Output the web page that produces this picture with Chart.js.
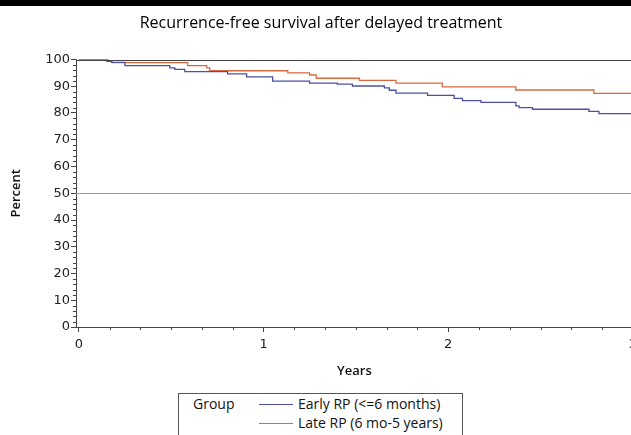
<!DOCTYPE html>
<html>
<head>
<meta charset="utf-8">
<script src="https://cdn.jsdelivr.net/npm/chart.js@4/dist/chart.umd.min.js"></script>
<style>
  html, body { margin: 0; padding: 0; background: #fff; width: 631px; height: 435px; overflow: hidden; }
  #topBar { position: absolute; left: 0; top: 0; width: 631px; height: 6px; background: #000; z-index: 2; }
  #wrap { position: absolute; left: 0; top: 0; }
  #legend { position: absolute; left: 178px; top: 393px; width: 283px; height: 50px;
            border: 1px solid #555; font-family: "Open Sans", sans-serif; font-size: 14px; color: #111; }
  #legend span { position: absolute; white-space: nowrap; line-height: 18px; }
  #legend i { position: absolute; height: 0; border-top: 1.3px solid; }
</style>
</head>
<body>
<div id="topBar"></div>
<div id="wrap"><canvas id="kmChart" width="642" height="390"></canvas></div>
<div id="legend"></div>

<script>
// === Data (years, percent recurrence-free) ===
const groups = ["Early RP (<=6 months)", "Late RP (6 mo-5 years)"];
const groupColors = ["#4b50a6", "#d9683e"];

const earlyYears = [0, 0.151, 0.177, 0.249, 0.492, 0.519, 0.573, 0.805, 0.908, 1.049, 1.249, 1.40, 1.481, 1.654, 1.681, 1.717, 1.888, 2.032, 2.077, 2.177, 2.366, 2.384, 2.456, 2.762, 2.816, 3];
const earlyPct   = [100, 99.3, 98.9, 97.7, 96.9, 96.3, 95.5, 94.6, 93.5, 91.9, 91.2, 90.8, 90.1, 89.4, 88.5, 87.4, 86.6, 85.5, 84.6, 84.0, 82.7, 82.0, 81.4, 80.6, 79.8, 79.8];

const lateYears = [0, 0.162, 0.178, 0.589, 0.692, 0.708, 1.131, 1.249, 1.285, 1.519, 1.717, 1.968, 2.366, 2.789, 3];
const latePct   = [100, 99.3, 98.8, 97.7, 96.9, 95.8, 95.0, 94.2, 93.0, 92.2, 91.2, 89.8, 88.6, 87.3, 87.3];

const xTicks = [0, 1, 2, 3];
const yTicks = [0, 10, 20, 30, 40, 50, 60, 70, 80, 90, 100];
const refLine = 50;

// === Legend (HTML box under the plot) ===
function buildLegend() {
  const box = document.getElementById("legend");
  let html = '<span style="left:14px;top:1px">Group</span>';
  groups.forEach((g, i) => {
    const top = 1 + i * 19;
    html += `<i style="left:80px;width:34px;top:${top + 9}px;border-color:${groupColors[i]}"></i>`;
    html += `<span style="left:119px;top:${top}px">${g}</span>`;
  });
  box.innerHTML = html;
}

// === Frame top line, 50% reference line, minor ticks ===
const extras = {
  id: "extras",
  afterDatasetsDraw(chart) {
    const { ctx, chartArea: a, scales: { x, y } } = chart;
    ctx.save();
    ctx.lineWidth = 1;
    // reference line
    ctx.strokeStyle = "#9a9a9a";
    const yr = Math.round(y.getPixelForValue(refLine)) + 0.5;
    ctx.beginPath(); ctx.moveTo(a.left, yr); ctx.lineTo(a.right, yr); ctx.stroke();
    // top frame
    ctx.strokeStyle = "#444";
    const yt = Math.round(a.top) + 0.5;
    ctx.beginPath(); ctx.moveTo(a.left, yt); ctx.lineTo(a.right, yt); ctx.stroke();
    // minor ticks
    ctx.beginPath();
    for (let v = 2; v < 100; v += 2) {
      if (v % 10 === 0) continue;
      const py = Math.round(y.getPixelForValue(v)) + 0.5;
      ctx.moveTo(a.left - 3, py); ctx.lineTo(a.left, py);
    }
    for (let k = 1; k < 18; k++) {
      if (k % 6 === 0) continue;
      const px = Math.round(x.getPixelForValue(k / 6)) + 0.5;
      ctx.moveTo(px, a.bottom); ctx.lineTo(px, a.bottom + 3);
    }
    ctx.stroke();
    ctx.restore();
  },
};

// === Draw Chart ===
function drawChart() {
  const ctx = document.getElementById("kmChart");
  const series = [earlyYears, lateYears];
  const values = [earlyPct, latePct];
  const tickFont = { family: "DejaVu Sans", size: 13 };
  const titleFont = { family: "Open Sans", size: 13, weight: "600" };

  new Chart(ctx, {
    type: "line",
    data: {
      datasets: groups.map((g, i) => ({
        label: g,
        data: series[i].map((t, j) => ({ x: t, y: values[i][j] })),
        borderColor: groupColors[i],
        borderWidth: 1.3,
        stepped: true,
        pointRadius: 0,
        fill: false,
      })),
    },
    options: {
      responsive: false,
      animation: false,
      layout: { padding: 0 },
      plugins: {
        legend: { display: false },
        tooltip: { enabled: false },
        title: {
          display: true,
          text: "Recurrence-free survival after delayed treatment",
          font: { family: "Open Sans", size: 16, weight: "normal" },
          color: "#000",
          padding: { top: 14, bottom: 26.3 },
        },
      },
      scales: {
        x: {
          type: "linear",
          min: -0.016,
          max: 3,
          afterBuildTicks: (s) => { s.ticks = xTicks.map((v) => ({ value: v })); },
          afterFit: (s) => { s.height = 63; },
          grid: { drawOnChartArea: false, tickLength: 5, color: "#444" },
          border: { color: "#444" },
          ticks: { font: tickFont, color: "#222", padding: 5, maxRotation: 0 },
          title: { display: true, text: "Years", font: titleFont, color: "#111", padding: { top: 0, bottom: 11 } },
        },
        y: {
          min: 0,
          max: 100,
          afterBuildTicks: (s) => { s.ticks = yTicks.map((v) => ({ value: v })); },
          afterFit: (s) => { s.width = 76; },
          grid: { drawOnChartArea: false, tickLength: 5, color: "#444" },
          border: { color: "#444" },
          ticks: { font: tickFont, color: "#222", padding: 1 },
          title: { display: true, text: "Percent", font: titleFont, color: "#111", padding: { top: 8, bottom: 0 } },
        },
      },
    },
    plugins: [extras],
  });
}

buildLegend();
drawChart();
</script>
</body>
</html>
